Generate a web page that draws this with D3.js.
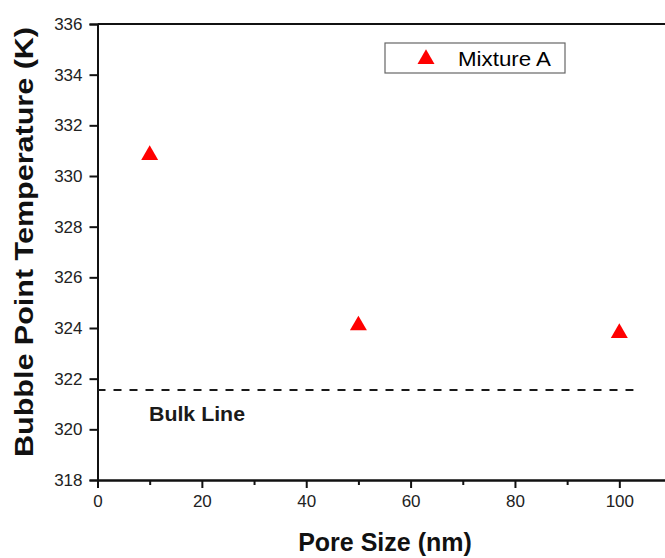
<!DOCTYPE html>
<html>
<head>
<meta charset="utf-8">
<script src="https://cdn.jsdelivr.net/npm/d3@7"></script>
<style>
  body { margin: 0; background: #fff; }
  text { font-family: Arial, "Liberation Sans", sans-serif; }
</style>
</head>
<body>
<div id="chart"></div>
<script>
// Data
const poreSizes = [10, 50, 100]
const bubbleTemps = [330.83, 324.1, 323.8]
const seriesName = 'Mixture A'
const bulkTemp = 321.55
const bulkRange = [0, 102.7]
const xTicks = [0, 20, 40, 60, 80, 100]
const yTicks = [318, 320, 322, 324, 326, 328, 330, 332, 334, 336]

const width = 665,
  height = 558

const svg = d3.select('#chart')
  .append('svg')
  .attr('width', width)
  .attr('height', height)

const x = d3.scaleLinear().domain([0, 110]).range([97.5, 671.5])
const y = d3.scaleLinear().domain([318, 336]).range([480, 24])

// axes
const xAxis = d3.axisBottom(x).tickValues(xTicks).tickSize(8).tickPadding(7)
const xMinor = d3.axisBottom(x).tickValues(d3.range(10, 111, 20)).tickSize(5).tickFormat('')
const yAxis = d3.axisLeft(y).tickValues(yTicks).tickSize(8).tickPadding(7)

svg.append('g').attr('transform', 'translate(0,480)').call(xAxis)
svg.append('g').attr('transform', 'translate(0,480)').call(xMinor)
svg.append('g').attr('transform', 'translate(97.5,0)').call(yAxis)

svg.selectAll('.domain').attr('stroke', '#111').attr('stroke-width', 2)
svg.selectAll('.tick line').attr('stroke', '#111').attr('stroke-width', 2)
svg.selectAll('.tick text').attr('font-size', 17).attr('fill', '#222')
  .style('font-family', 'Arial, "Liberation Sans", sans-serif')

// top frame line
svg.append('line')
  .attr('x1', x(0)).attr('x2', x(110))
  .attr('y1', y(336)).attr('y2', y(336))
  .attr('stroke', '#111').attr('stroke-width', 2)

// bulk line
svg.append('line')
  .attr('x1', x(bulkRange[0])).attr('x2', x(bulkRange[1]))
  .attr('y1', y(bulkTemp)).attr('y2', y(bulkTemp))
  .attr('stroke', '#1a1a1a').attr('stroke-width', 2)
  .attr('stroke-dasharray', '8,8')

svg.append('text')
  .attr('x', 149).attr('y', 421)
  .attr('font-size', 20).attr('font-weight', 'bold').attr('fill', '#1a1a1a')
  .attr('textLength', 96).attr('lengthAdjust', 'spacingAndGlyphs')
  .text('Bulk Line')

// markers
const tri = d3.symbol().type(d3.symbolTriangle).size(125)
svg.selectAll('path.pt')
  .data(poreSizes)
  .enter()
  .append('path')
  .attr('class', 'pt')
  .attr('d', tri)
  .attr('fill', '#ff0000')
  .attr('transform', (d, i) => `translate(${x(d)},${y(bubbleTemps[i])})`)

// legend
const lg = svg.append('g').attr('transform', 'translate(385,43)')
lg.append('rect')
  .attr('width', 180).attr('height', 30)
  .attr('fill', '#fff').attr('stroke', '#666').attr('stroke-width', 1.2)
lg.append('path').attr('d', tri).attr('fill', '#ff0000')
  .attr('transform', 'translate(41,16)')
lg.append('text').attr('x', 73).attr('y', 23)
  .attr('font-size', 21).attr('fill', '#000')
  .attr('textLength', 93).attr('lengthAdjust', 'spacingAndGlyphs')
  .text(seriesName)

// axis titles
svg.append('text')
  .attr('x', 385).attr('y', 551)
  .attr('text-anchor', 'middle')
  .attr('font-size', 25).attr('font-weight', 'bold').attr('fill', '#111')
  .text('Pore Size (nm)')

svg.append('text')
  .attr('transform', 'translate(33,242) rotate(-90)')
  .attr('text-anchor', 'middle')
  .attr('font-size', 25).attr('font-weight', 'bold').attr('fill', '#111')
  .attr('textLength', 430).attr('lengthAdjust', 'spacingAndGlyphs')
  .text('Bubble Point Temperature (K)')
</script>
</body>
</html>
